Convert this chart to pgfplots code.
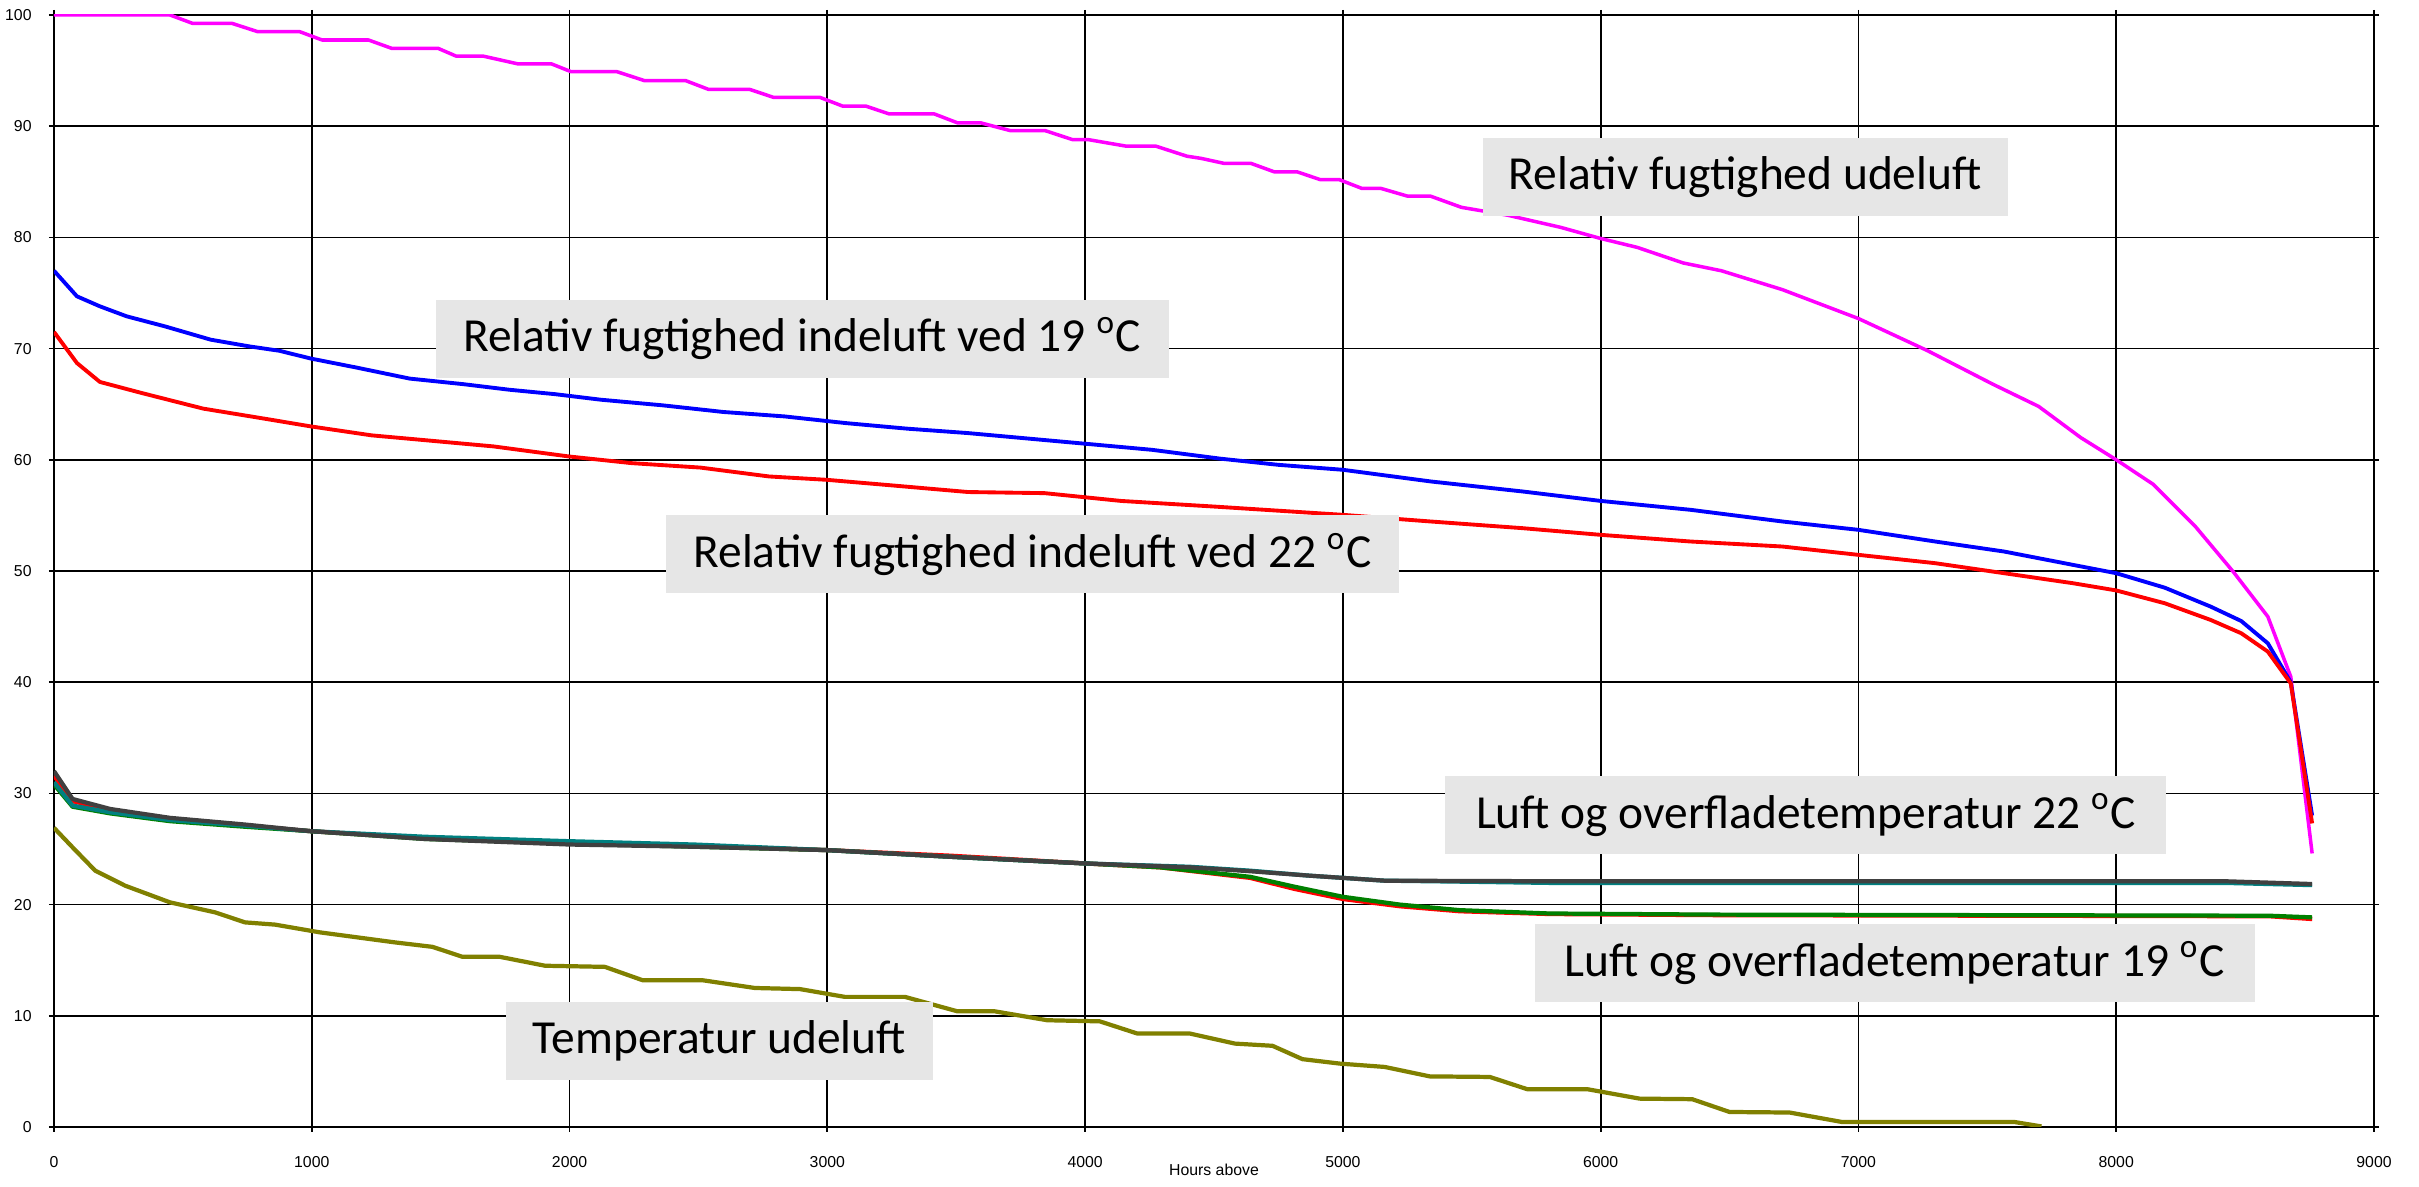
\documentclass[border=0pt]{standalone}
\usepackage{pgfplots}
\pgfplotsset{compat=1.18}
\usepackage{fontspec}
\setmainfont{Carlito}
\newfontfamily\tickfont{Liberation Sans}

\definecolor{boxgray}{RGB}{230,230,230}
\definecolor{rhout}{RGB}{255,0,255}
\definecolor{rhnineteen}{RGB}{0,0,255}
\definecolor{rhtwentytwo}{RGB}{255,0,0}
\definecolor{airtt}{RGB}{64,64,64}
\definecolor{surftt}{RGB}{0,128,128}
\definecolor{airnt}{RGB}{255,0,0}
\definecolor{surfnt}{RGB}{0,128,0}
\definecolor{tout}{RGB}{128,128,0}

\begin{document}
\begin{tikzpicture}
\useasboundingbox (-0.54,-0.60) rectangle (23.65,11.27);
\begin{axis}[
  at={(0,0)}, anchor=south west,
  scale only axis, width=23.2cm, height=11.12cm,
  xmin=0, xmax=9000, ymin=0, ymax=100,
  xtick={0,1000,...,9000}, ytick={0,10,...,100},
  scaled ticks=false,
  /pgf/number format/1000 sep={},
  /pgf/number format/assume math mode=true,
  grid=major,
  major grid style={black, line width=0.5pt},
  axis line style={black, line width=0.6pt},
  tick align=outside, major tick length=0.05cm,
  tick style={black, line width=0.5pt},
  ticklabel style={font=\tickfont\fontsize{4.5}{5}\selectfont, text=black},
  xticklabel style={yshift=-0.12cm},
  yticklabel style={xshift=-0.05cm},
  xlabel={Hours above},
  xlabel style={font=\tickfont\fontsize{4.5}{5}\selectfont, yshift=0.28cm},
  every axis plot/.append style={line join=round},
]

% Relative humidity, outdoor air
\addplot[rhout, line width=1pt] coordinates {
(0,100)(450,100)(537,99.25)(690,99.25)(790,98.5)(953,98.5)(1040,97.75)(1220,97.75)
(1310,97.0)(1490,97.0)(1560,96.3)(1665,96.3)(1800,95.6)(1930,95.6)(2006,94.9)(2184,94.9)
(2290,94.1)(2450,94.1)(2540,93.3)(2700,93.3)(2790,92.6)(2970,92.6)(3060,91.8)(3150,91.8)
(3240,91.1)(3415,91.1)(3505,90.3)(3595,90.3)(3710,89.6)(3845,89.6)(3950,88.8)(4010,88.8)
(4160,88.2)(4275,88.2)(4395,87.3)(4451,87.1)(4540,86.65)(4644,86.65)(4733,85.9)(4822,85.9)
(4911,85.2)(4985,85.2)(5074,84.4)(5148,84.4)(5252,83.7)(5341,83.7)(5460,82.7)(5638,82.0)
(5845,80.9)(6000,79.9)(6142,79.1)(6320,77.7)(6468,77.0)(6705,75.3)(7000,72.7)(7269,69.8)
(7521,66.8)(7699,64.8)(7862,62.0)(8000,60.0)(8143,57.8)(8307,54.0)(8455,49.9)(8588,45.9)
(8677,40.5)(8760,24.6)
};

% Relative humidity, indoor air at 19 C
\addplot[rhnineteen, line width=1.1pt] coordinates {
(0,77.0)(89,74.7)(178,73.8)(282,72.9)(430,72.0)(608,70.8)(757,70.2)(875,69.8)(997,69.1)
(1172,68.3)(1380,67.3)(1588,66.8)(1766,66.3)(1944,65.9)(2122,65.4)(2360,64.9)(2596,64.3)
(2834,63.9)(3071,63.3)(3309,62.8)(3546,62.4)(3783,61.9)(4021,61.4)(4258,60.9)(4525,60.1)
(4748,59.55)(5000,59.1)(5341,58.05)(5697,57.15)(6000,56.3)(6349,55.5)(6705,54.45)
(7000,53.7)(7298,52.65)(7565,51.75)(7832,50.55)(8000,49.8)(8188,48.5)(8366,46.8)
(8485,45.5)(8588,43.5)(8677,40.0)(8760,28.0)
};

% Relative humidity, indoor air at 22 C
\addplot[rhtwentytwo, line width=1.1pt] coordinates {
(0,71.5)(89,68.7)(178,67.0)(341,66.0)(579,64.6)(816,63.7)(997,63.0)(1231,62.2)(1469,61.7)
(1706,61.2)(1997,60.3)(2240,59.7)(2507,59.3)(2774,58.5)(2997,58.2)(3249,57.7)(3546,57.1)
(3843,57.0)(4139,56.3)(4496,55.8)(5000,55.05)(5341,54.45)(5697,53.85)(6000,53.25)
(6349,52.65)(6705,52.2)(7000,51.45)(7298,50.7)(7565,49.8)(7832,48.9)(8000,48.25)
(8188,47.1)(8366,45.6)(8485,44.4)(8588,42.75)(8677,39.9)(8760,27.3)
};

% Air temperature, 19 C case
\addplot[airnt, line width=1.2pt] coordinates {
(0,31.6)(72,29.3)(218,28.5)(450,27.7)(741,27.1)(997,26.6)(1439,26.0)(2000,25.6)(2486,25.3)
(2998,24.9)(3476,24.4)(4000,23.7)(4290,23.35)(4640,22.4)(4814,21.4)(5000,20.5)(5221,19.85)
(5453,19.4)(5802,19.15)(6442,19.05)(8594,18.95)(8760,18.7)
};

% Surface temperature, 19 C case
\addplot[surfnt, line width=1.2pt] coordinates {
(0,30.8)(72,28.8)(218,28.2)(450,27.5)(741,27.0)(997,26.6)(1439,25.9)(2000,25.5)(2486,25.2)
(2998,24.9)(3476,24.3)(4000,23.7)(4290,23.35)(4640,22.5)(4814,21.6)(5000,20.7)(5221,20.0)
(5453,19.5)(5802,19.2)(6442,19.1)(8594,19.0)(8760,18.85)
};

% Surface temperature, 22 C case
\addplot[surftt, line width=1.2pt] coordinates {
(0,31.0)(72,28.9)(218,28.3)(450,27.6)(741,27.1)(997,26.6)(1439,26.1)(2000,25.7)(2486,25.4)
(2998,24.9)(3476,24.3)(4000,23.7)(4407,23.4)(4640,23.05)(4871,22.6)(5162,22.15)(5500,22.05)
(5802,21.95)(8420,21.95)(8760,21.75)
};

% Air temperature, 22 C case
\addplot[airtt, line width=1.2pt] coordinates {
(0,32.0)(72,29.5)(218,28.6)(450,27.8)(741,27.2)(997,26.6)(1439,25.9)(2000,25.4)(2486,25.2)
(2998,24.9)(3476,24.3)(4000,23.7)(4407,23.35)(4640,23.0)(4871,22.6)(5162,22.15)(5802,22.1)
(8420,22.1)(8760,21.85)
};

% Outdoor air temperature
\addplot[tout, line width=1.2pt] coordinates {
(0,26.9)(72,25.15)(160,23.05)(276,21.7)(450,20.2)(625,19.3)(741,18.4)(857,18.2)(1032,17.5)
(1323,16.6)(1468,16.2)(1585,15.3)(1730,15.3)(1905,14.5)(2137,14.4)(2283,13.2)(2515,13.2)
(2719,12.5)(2894,12.4)(3068,11.7)(3301,11.7)(3505,10.4)(3650,10.4)(3853,9.6)(4057,9.5)
(4203,8.4)(4407,8.4)(4581,7.5)(4727,7.3)(4843,6.1)(4988,5.7)(5162,5.4)(5337,4.55)(5570,4.5)
(5715,3.4)(5948,3.4)(6151,2.55)(6355,2.5)(6500,1.35)(6733,1.3)(6936,0.45)(7605,0.45)(7710,0.05)
};

% Series labels
\tikzset{lbl/.style={fill=boxgray, inner sep=0pt, minimum height=0.78cm,
  font=\fontsize{13.5}{16}\selectfont, text=black}}
\node[lbl, minimum width=5.25cm] at (axis cs:6561,85.4) {Relativ fugtighed udeluft};
\node[lbl, minimum width=7.33cm] at (axis cs:2902,70.9) {Relativ fugtighed indeluft ved 19 \textsuperscript{o}C};
\node[lbl, minimum width=7.33cm] at (axis cs:3796,51.5) {Relativ fugtighed indeluft ved 22 \textsuperscript{o}C};
\node[lbl, minimum width=7.21cm] at (axis cs:6796,28.06) {Luft og overfladetemperatur 22 \textsuperscript{o}C};
\node[lbl, minimum width=7.20cm] at (axis cs:7140,14.75) {Luft og overfladetemperatur 19 \textsuperscript{o}C};
\node[lbl, minimum width=4.27cm] at (axis cs:2581,7.75) {Temperatur udeluft};
\end{axis}
\end{tikzpicture}
\end{document}
